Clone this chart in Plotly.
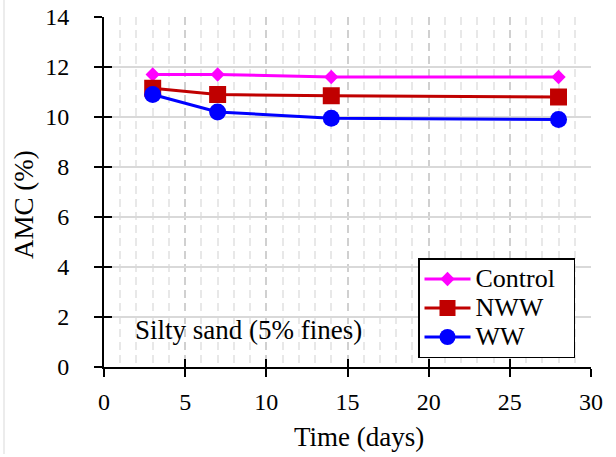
import plotly.graph_objects as go

# Air moisture content over curing time, silty sand (5% fines)
days = [3, 7, 14, 28]
control = [11.7, 11.7, 11.6, 11.6]
nww = [11.15, 10.9, 10.85, 10.8]
ww = [10.9, 10.2, 9.95, 9.9]

x_ticks = [0, 5, 10, 15, 20, 25, 30]
y_ticks = [0, 2, 4, 6, 8, 10, 12, 14]

FONT = "Liberation Serif"

W, H = 616, 457
L, R, T, B = 104, 25, 17, 90
pw, ph = W - L - R, H - T - B


def legend_label(s):
    # larger glyphs than the legend's nominal font keep the rows compact;
    # trailing no-break spaces widen the box a little
    return f'<span style="font-size:26px">{s}\u00a0\u00a0</span>'


fig = go.Figure()
fig.add_trace(go.Scatter(
    x=days, y=control, name=legend_label("Control"), mode="lines+markers",
    line=dict(color="#FF00FF", width=3),
    marker=dict(symbol="diamond", size=11, color="#FF00FF"),
))
fig.add_trace(go.Scatter(
    x=days, y=nww, name=legend_label("NWW"), mode="lines+markers",
    line=dict(color="#C00000", width=3),
    marker=dict(symbol="square", size=17, color="#C00000"),
))
fig.add_trace(go.Scatter(
    x=days, y=ww, name=legend_label("WW"), mode="lines+markers",
    line=dict(color="#0000FF", width=3),
    marker=dict(symbol="circle", size=17, color="#0000FF"),
))
# invisible trace so the overlay axes (inner half of the cross ticks) render
fig.add_trace(go.Scatter(x=[0], y=[0], xaxis="x2", yaxis="y2", mode="markers",
                         marker=dict(opacity=0), showlegend=False, hoverinfo="skip"))

fig.update_layout(
    template="none",
    width=W, height=H,
    margin=dict(l=L, r=R, t=T, b=B),
    paper_bgcolor="white", plot_bgcolor="white",
    font=dict(family=FONT, size=24, color="black"),
    showlegend=True,
    legend=dict(
        x=(418 - L) / pw, y=(H - B - 258) / ph, xanchor="left", yanchor="top",
        bgcolor="white", bordercolor="black", borderwidth=1.5,
        font=dict(family=FONT, size=20, color="black"),
        itemwidth=46, tracegroupgap=0,
    ),
    xaxis=dict(
        range=[0, 30], tickvals=x_ticks, ticktext=[str(v) for v in x_ticks],
        showline=True, linecolor="black", linewidth=2,
        ticks="outside", ticklen=8, tickwidth=2, tickcolor="black",
        ticklabelstandoff=4, automargin=False,
        showgrid=True, gridcolor="#d0d0d0", gridwidth=1.5, griddash="8px,5px",
        minor=dict(dtick=1, showgrid=True, gridcolor="#e8e8e8", gridwidth=1.5,
                   griddash="8px,5px", ticks=""),
        zeroline=False, tickfont=dict(family=FONT, size=24, color="black"),
    ),
    yaxis=dict(
        range=[0, 14], tickvals=y_ticks, ticktext=[str(v) for v in y_ticks],
        showline=True, linecolor="black", linewidth=2,
        ticks="outside", ticklen=8, tickwidth=2, tickcolor="black",
        ticklabelstandoff=20, automargin=False,
        showgrid=True, gridcolor="#d9d9d9", gridwidth=1.5,
        zeroline=False, tickfont=dict(family=FONT, size=24, color="black"),
    ),
    xaxis2=dict(
        range=[0, 30], tickvals=x_ticks, overlaying="x", anchor="y2",
        ticks="inside", ticklen=8, tickwidth=2, tickcolor="black",
        showticklabels=False, showgrid=False, showline=False, zeroline=False,
        automargin=False,
    ),
    yaxis2=dict(
        range=[0, 14], tickvals=y_ticks, overlaying="y", anchor="x2", side="left",
        ticks="inside", ticklen=8, tickwidth=2, tickcolor="black",
        showticklabels=False, showgrid=False, showline=False, zeroline=False,
        automargin=False,
    ),
    annotations=[
        dict(text="Time (days)", xref="paper", yref="paper",
             x=(359 - L) / pw, y=(H - B - 437) / ph, xanchor="center", yanchor="middle",
             showarrow=False, font=dict(family=FONT, size=27, color="black")),
        dict(text="AMC (%)", xref="paper", yref="paper", textangle=-90,
             x=(24 - L) / pw, y=(H - B - 205) / ph, xanchor="center", yanchor="middle",
             showarrow=False, font=dict(family=FONT, size=27, color="black")),
        dict(text="Silty sand (5% fines)", xref="x", yref="y",
             x=1.8, y=1.5, xanchor="left", yanchor="middle",
             showarrow=False, font=dict(family=FONT, size=27, color="black")),
    ],
    shapes=[
        dict(type="line", xref="paper", yref="paper",
             x0=(4 - L) / pw, x1=(4 - L) / pw,
             y0=(H - B - 454) / ph, y1=(H - B) / ph,
             line=dict(color="#d9d9d9", width=1)),
    ],
)

fig.write_html("out.html")
